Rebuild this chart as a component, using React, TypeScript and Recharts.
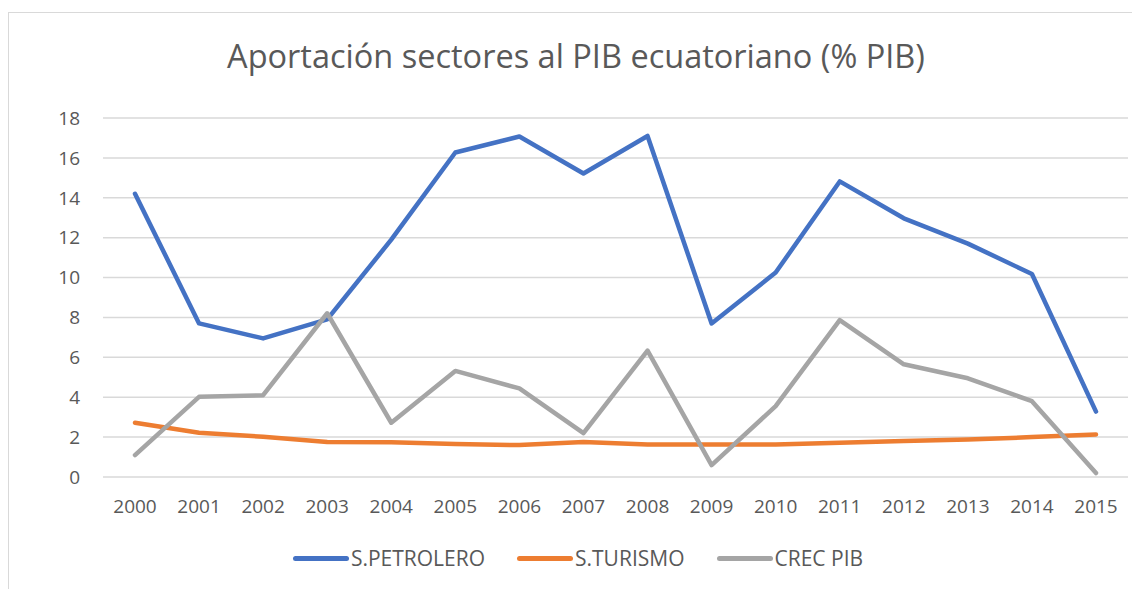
import { LineChart, Line, XAxis, YAxis, CartesianGrid, Legend } from 'recharts';

const years = ['2000', '2001', '2002', '2003', '2004', '2005', '2006', '2007', '2008', '2009', '2010', '2011', '2012', '2013', '2014', '2015'];
const petrolero = [14.2, 7.7, 6.95, 7.9, 11.9, 16.27, 17.07, 15.22, 17.1, 7.7, 10.25, 14.82, 12.97, 11.7, 10.18, 3.28];
const turismo = [2.72, 2.22, 2.02, 1.75, 1.74, 1.65, 1.6, 1.76, 1.63, 1.63, 1.63, 1.72, 1.8, 1.88, 2.0, 2.13];
const crecPib = [1.1, 4.02, 4.1, 8.21, 2.72, 5.32, 4.44, 2.2, 6.34, 0.6, 3.55, 7.87, 5.65, 4.95, 3.8, 0.2];
const yTicks = [0, 2, 4, 6, 8, 10, 12, 14, 16, 18];

const series = [
  { key: 'petrolero', name: 'S.PETROLERO', color: '#4472C4' },
  { key: 'turismo', name: 'S.TURISMO', color: '#ED7D31' },
  { key: 'crecPib', name: 'CREC PIB', color: '#A5A5A5' },
];

const data = years.map((y, i) => ({
  year: y,
  petrolero: petrolero[i],
  turismo: turismo[i],
  crecPib: crecPib[i],
}));

const FONT = '"Open Sans", sans-serif';
const TEXT = '#595959';

function LegendRow() {
  return (
    <div style={{ display: 'flex', justifyContent: 'center', alignItems: 'center', fontFamily: FONT, fontSize: 21, color: TEXT, paddingLeft: 56 }}>
      {series.map((s) => (
        <div key={s.key} style={{ display: 'flex', alignItems: 'center', marginRight: 32 }}>
          <span style={{ display: 'inline-block', width: 56, height: 5, borderRadius: 3, background: s.color, marginRight: 2 }} />
          <span>{s.name}</span>
        </div>
      ))}
    </div>
  );
}

export default function App() {
  return (
    <div style={{ position: 'absolute', left: 0, top: 0, width: 1132, height: 589, background: '#fff', overflow: 'hidden' }}>
      <div style={{ position: 'absolute', left: 8, top: 12, width: 1140, height: 600, border: '1.5px solid #D9D9D9', boxSizing: 'border-box' }} />
      <div style={{ position: 'absolute', left: 0, top: 33, width: 1152, textAlign: 'center', fontFamily: FONT, fontSize: 32.5, color: TEXT }}>
        Aportación sectores al PIB ecuatoriano (% PIB)
      </div>
      <div style={{ position: 'absolute', left: 0, top: 0 }}>
        <LineChart width={1132} height={589} data={data} margin={{ top: 118, right: 4, bottom: 82, left: 43 }}>
          <CartesianGrid vertical={false} stroke="#D9D9D9" strokeWidth={1.5} />
          <XAxis
            dataKey="year"
            height={30}
            axisLine={false}
            tickLine={false}
            tickMargin={17}
            padding={{ left: 32, right: 32 }}
            tick={{ fontSize: 19, fill: TEXT, fontFamily: FONT }}
            interval={0}
          />
          <YAxis
            width={60}
            domain={[0, 18]}
            ticks={yTicks}
            axisLine={false}
            tickLine={false}
            tickMargin={17}
            tick={{ fontSize: 19, fill: TEXT, fontFamily: FONT }}
          />
          <Legend
            layout="horizontal"
            verticalAlign="middle"
            align="center"
            wrapperStyle={{ top: 544, left: 0, width: 1132 }}
            content={() => <LegendRow />}
          />
          {series.map((s) => (
            <Line
              key={s.key}
              type="linear"
              dataKey={s.key}
              name={s.name}
              stroke={s.color}
              strokeWidth={4.5}
              strokeLinecap="round"
              strokeLinejoin="round"
              dot={false}
              activeDot={false}
              isAnimationActive={false}
            />
          ))}
        </LineChart>
      </div>
    </div>
  );
}
